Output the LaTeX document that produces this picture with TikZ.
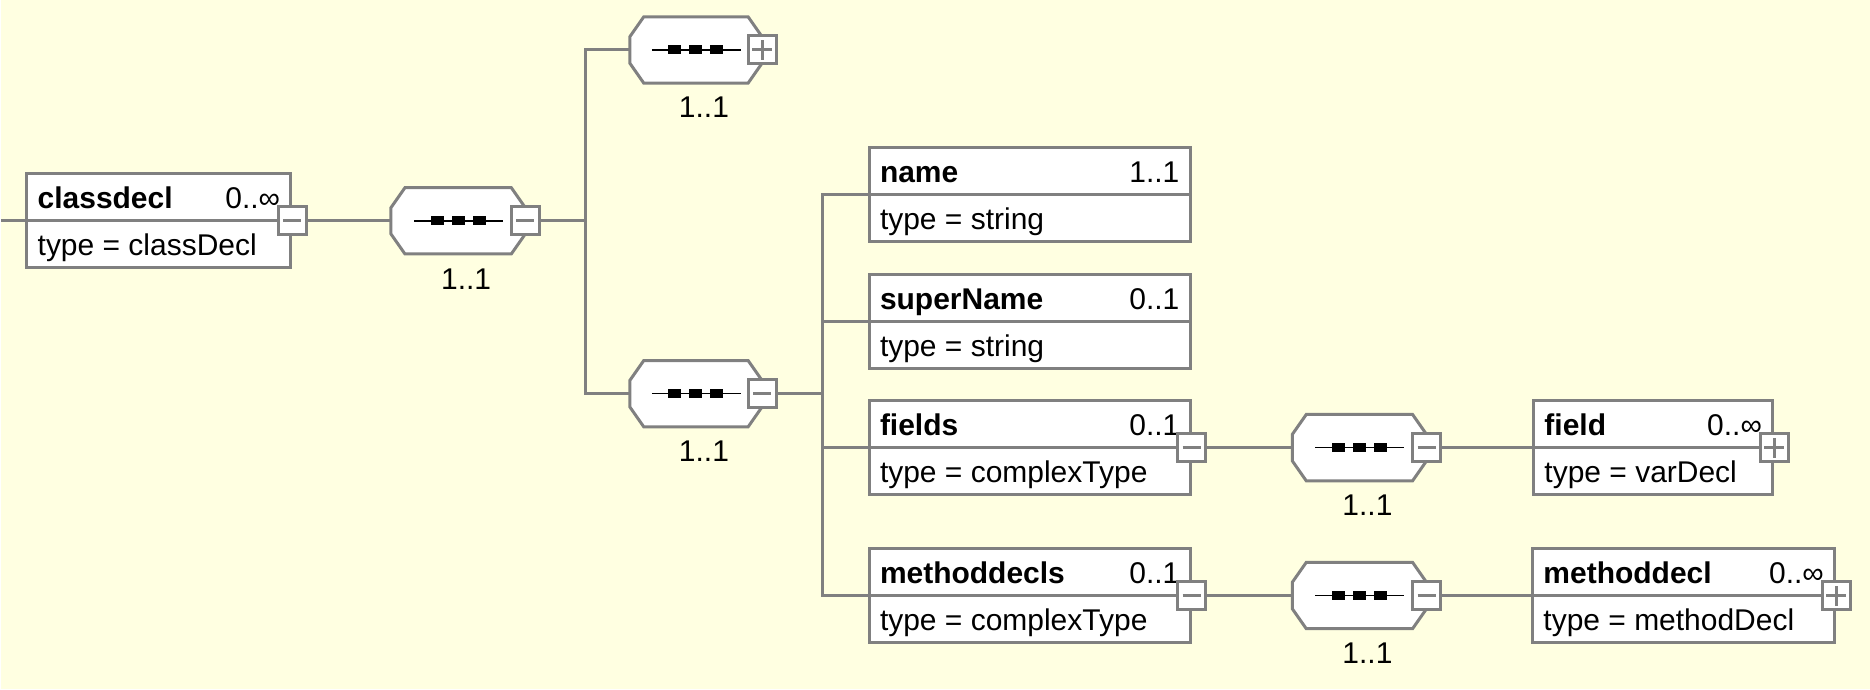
\documentclass[tikz,border=0pt]{standalone}
\usepackage{fontspec}
\setmainfont{Liberation Sans}
\usetikzlibrary{positioning}
\definecolor{bgyellow}{RGB}{255,255,225}
\definecolor{linegray}{RGB}{128,128,128}

\tikzset{
  conn/.style={draw=linegray, line width=3pt},
  elem/.style={draw=linegray, line width=3pt, fill=white, anchor=west,
    minimum height=94pt, inner sep=0pt},
  seq/.style={minimum width=134pt, minimum height=66pt, inner sep=0pt},
  pmbox/.style={draw=linegray, line width=3pt, fill=white, minimum size=28pt,
    inner sep=0pt},
  minusbox/.style={pmbox, path picture={
      \draw[linegray, line width=3pt] ([xshift=-9pt]path picture bounding box.center)
        -- ([xshift=9pt]path picture bounding box.center);}},
  plusbox/.style={pmbox, path picture={
      \draw[linegray, line width=3pt] ([xshift=-10pt]path picture bounding box.center)
        -- ([xshift=10pt]path picture bounding box.center);
      \draw[linegray, line width=3pt] ([yshift=-10pt]path picture bounding box.center)
        -- ([yshift=10pt]path picture bounding box.center);}},
  occ/.style={inner sep=0pt},
  title/.style={inner sep=0pt, anchor=base west,
    font=\fontsize{30pt}{36pt}\selectfont\bfseries},
}

% octagon outline and the sequence mark of a compositor node
\newcommand{\seqbody}[1]{
    \draw[linegray, line width=3pt, fill=white]
      ([xshift=14pt]#1.north west) -- ([xshift=-14pt]#1.north east)
      -- ([yshift=-20pt]#1.north east) -- ([yshift=20pt]#1.south east)
      -- ([xshift=-14pt]#1.south east) -- ([xshift=14pt]#1.south west)
      -- ([yshift=20pt]#1.south west) -- ([yshift=-20pt]#1.north west) -- cycle;
    \draw[black, line width=1.6pt] ([xshift=-44pt]#1.center) -- ([xshift=45pt]#1.center);
    \foreach \dx in {-21,0,21}
      \fill[black] ([xshift=\dx pt]#1.center) ++(-6.5pt,-4.5pt) rectangle ++(13pt,9pt);
}

\begin{document}
\begin{tikzpicture}[x=1pt, y=-1pt, font=\fontsize{30pt}{36pt}\selectfont]
    \fill[bgyellow] (0,0) rectangle (1870,690);

    % classdecl
    \coordinate (in) at (0,221);
    \node[elem, minimum width=264pt] (classdecl) at (24,221) {};
    \draw[conn] (classdecl.west) -- (classdecl.east);
    \node[title] at ([shift={(12,-12)}]classdecl.west) {classdecl};
    \node[inner sep=0pt, anchor=base east] at ([shift={(-12,-12)}]classdecl.east) {0..∞};
    \node[inner sep=0pt, anchor=base west] at ([shift={(12,35)}]classdecl.west) {type = classDecl};
    \node[minusbox] (classdeclPM) at (classdecl.east) {};

    % first sequence
    \node[seq] (seq1) at (457,221) {};
    \seqbody{seq1}
    \node[minusbox] (seq1PM) at (seq1.east) {};
    \node[occ, below=15pt of seq1, xshift=8pt] {1..1};
    \coordinate (t1) at (584,221);

    \node[seq, minimum width=132pt] (seqtop) at (695,50) {};
    \seqbody{seqtop}
    \node[plusbox] (seqtopPM) at (seqtop.east) {};
    \node[occ, below=14pt of seqtop, xshift=8pt] {1..1};

    \node[seq, minimum width=132pt] (seqbot) at (695,394) {};
    \seqbody{seqbot}
    \node[minusbox] (seqbotPM) at (seqbot.east) {};
    \node[occ, below=14pt of seqbot, xshift=8pt] {1..1};
    \coordinate (t2) at (822,394);

    % children
    \node[elem, minimum width=321pt] (name) at (867,195) {};
    \draw[conn] (name.west) -- (name.east);
    \node[title] at ([shift={(12,-12)}]name.west) {name};
    \node[inner sep=0pt, anchor=base east] at ([shift={(-12,-12)}]name.east) {1..1};
    \node[inner sep=0pt, anchor=base west] at ([shift={(12,35)}]name.west) {type = string};

    \node[elem, minimum width=321pt] (superName) at (867,322) {};
    \draw[conn] (superName.west) -- (superName.east);
    \node[title] at ([shift={(12,-12)}]superName.west) {superName};
    \node[inner sep=0pt, anchor=base east] at ([shift={(-12,-12)}]superName.east) {0..1};
    \node[inner sep=0pt, anchor=base west] at ([shift={(12,35)}]superName.west) {type = string};

    \node[elem, minimum width=321pt] (fields) at (867,448) {};
    \draw[conn] (fields.west) -- (fields.east);
    \node[title] at ([shift={(12,-12)}]fields.west) {fields};
    \node[inner sep=0pt, anchor=base east] at ([shift={(-12,-12)}]fields.east) {0..1};
    \node[inner sep=0pt, anchor=base west] at ([shift={(12,35)}]fields.west) {type = complexType};
    \node[minusbox] (fieldsPM) at (fields.east) {};

    \node[elem, minimum width=321pt] (methoddecls) at (867,596) {};
    \draw[conn] (methoddecls.west) -- (methoddecls.east);
    \node[title] at ([shift={(12,-12)}]methoddecls.west) {methoddecls};
    \node[inner sep=0pt, anchor=base east] at ([shift={(-12,-12)}]methoddecls.east) {0..1};
    \node[inner sep=0pt, anchor=base west] at ([shift={(12,35)}]methoddecls.west) {type = complexType};
    \node[minusbox] (methoddeclsPM) at (methoddecls.east) {};

    % second level
    \node[seq] (seqfields) at (1359,448) {};
    \seqbody{seqfields}
    \node[minusbox] (seqfieldsPM) at (seqfields.east) {};
    \node[occ, below=14pt of seqfields, xshift=8pt] {1..1};

    \node[seq] (seqmethods) at (1359,596) {};
    \seqbody{seqmethods}
    \node[minusbox] (seqmethodsPM) at (seqmethods.east) {};
    \node[occ, below=14pt of seqmethods, xshift=8pt] {1..1};

    \node[elem, minimum width=239pt] (field) at (1532,448) {};
    \draw[conn] (field.west) -- (field.east);
    \node[title] at ([shift={(12,-12)}]field.west) {field};
    \node[inner sep=0pt, anchor=base east] at ([shift={(-12,-12)}]field.east) {0..∞};
    \node[inner sep=0pt, anchor=base west] at ([shift={(12,35)}]field.west) {type = varDecl};
    \node[plusbox] (fieldPM) at (field.east) {};

    \node[elem, minimum width=302pt] (methoddecl) at (1531,596) {};
    \draw[conn] (methoddecl.west) -- (methoddecl.east);
    \node[title] at ([shift={(12,-12)}]methoddecl.west) {methoddecl};
    \node[inner sep=0pt, anchor=base east] at ([shift={(-12,-12)}]methoddecl.east) {0..∞};
    \node[inner sep=0pt, anchor=base west] at ([shift={(12,35)}]methoddecl.west) {type = methodDecl};
    \node[plusbox] (methoddeclPM) at (methoddecl.east) {};

    % connectors
    \draw[conn] (in) -- (classdecl.west);
    \draw[conn] (classdeclPM) -- (seq1);
    \draw[conn] (seq1PM) -- (t1);
    \draw[conn] (seqtop.west) -- (seqtop.west -| t1) -- (seqbot.west -| t1) -- (seqbot.west);
    \draw[conn] (seqbotPM) -- (t2);
    \draw[conn] (name.west) -- (name.west -| t2) -- (methoddecls.west -| t2) -- (methoddecls.west);
    \draw[conn] (superName.west) -- (superName.west -| t2);
    \draw[conn] (fields.west) -- (fields.west -| t2);
    \draw[conn] (fieldsPM) -- (seqfields);
    \draw[conn] (seqfieldsPM) -- (field.west);
    \draw[conn] (methoddeclsPM) -- (seqmethods);
    \draw[conn] (seqmethodsPM) -- (methoddecl.west);
\end{tikzpicture}
\end{document}
